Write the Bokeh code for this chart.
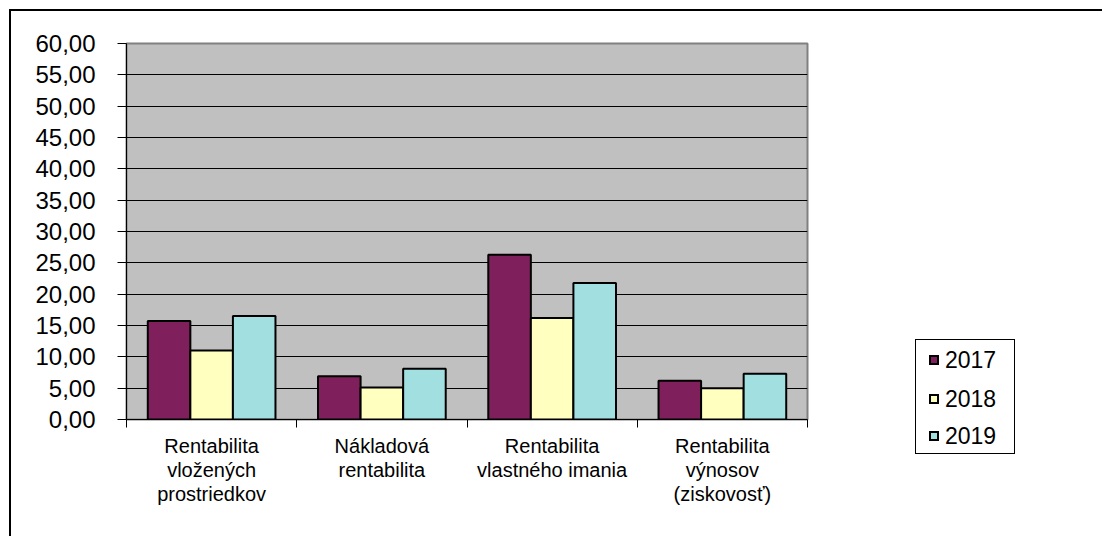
import numpy as np
from bokeh.plotting import figure
from bokeh.layouts import row
from bokeh.models import (Range1d, FixedTicker, CustomJSTickFormatter, ColumnDataSource, Div)
from bokeh.embed import file_html
from bokeh.resources import INLINE

categories = ["Rentabilita\nvložených\nprostriedkov",
              "Nákladová\nrentabilita",
              "Rentabilita\nvlastného imania",
              "Rentabilita\nvýnosov\n(ziskovosť)"]
years = ["2017", "2018", "2019"]
v2017 = [15.7, 6.9, 26.3, 6.2]
v2018 = [11.0, 5.1, 16.2, 5.0]
v2019 = [16.5, 8.1, 21.8, 7.3]
series = [v2017, v2018, v2019]
colors = ["#7F1F5C", "#FFFFC0", "#A2DFE0"]
y_ticks = [0, 5, 10, 15, 20, 25, 30, 35, 40, 45, 50, 55, 60]

FONT = "Liberation Sans"

p = figure(width=809, height=536, output_backend="svg", toolbar_location=None,
           x_range=Range1d(0, len(categories)), y_range=Range1d(0, 60),
           min_border_left=126, min_border_right=2, min_border_top=43, min_border_bottom=117)
p.background_fill_color = "#C0C0C0"
p.border_fill_alpha = 0
p.outline_line_color = "#808080"
p.outline_line_width = 2
p.styles = {
    "background-color": "white",
    "background-image": "linear-gradient(black, black), linear-gradient(black, black)",
    "background-size": "100% 2px, 2px 100%",
    "background-position": "9px 9px, 9px 9px",
    "background-repeat": "no-repeat",
}

idx = np.arange(len(categories))
bar_w = 0.25
for k, (vals, col) in enumerate(zip(series, colors)):
    src = ColumnDataSource(dict(x=idx + 0.5 + (k - 1) * bar_w, top=vals))
    p.vbar(x="x", top="top", width=bar_w, source=src, fill_color=col,
           line_color="black", line_width=2, legend_label=years[k])
p.legend.visible = False

# y axis
p.yaxis.ticker = FixedTicker(ticks=y_ticks)
p.yaxis.formatter = CustomJSTickFormatter(code="return tick.toFixed(2).replace('.', ',');")
p.yaxis.major_label_text_font = FONT
p.yaxis.major_label_text_font_size = "24px"
p.yaxis.major_label_text_color = "black"
p.yaxis.major_tick_out = 9
p.yaxis.major_tick_in = 0
p.yaxis.minor_tick_out = 0
p.yaxis.minor_tick_in = 0
p.yaxis.major_label_standoff = 22
p.yaxis.axis_line_color = "black"
p.yaxis.major_tick_line_color = "black"

# x axis: labels at centers, tick marks at boundaries
centers = list(idx + 0.5)
bounds = list(np.arange(len(categories) + 1).astype(float))
p.xaxis.ticker = FixedTicker(ticks=centers, minor_ticks=bounds)
p.xaxis.major_label_overrides = {float(c): lab for c, lab in zip(centers, categories)}
p.xaxis.major_label_text_font = FONT
p.xaxis.major_label_text_font_size = "20px"
p.xaxis.major_label_text_line_height = 1.1
p.xaxis.major_label_text_color = "black"
p.xaxis.major_tick_out = 0
p.xaxis.major_tick_in = 0
p.xaxis.minor_tick_out = 8
p.xaxis.minor_tick_in = 0
p.xaxis.minor_tick_line_color = "black"
p.xaxis.major_label_standoff = 7
p.xaxis.axis_line_color = "black"

p.xgrid.visible = False
p.ygrid.ticker = FixedTicker(ticks=y_ticks[1:-1])
p.ygrid.grid_line_color = "black"
p.ygrid.grid_line_width = 1

# legend box (HTML) to the right of the chart
item_tops = [7, 46, 83]
items_html = "".join(
    f'<div style="position:absolute;left:13px;top:{t}px;height:26px;display:flex;align-items:center;">'
    f'<span style="display:inline-block;width:10px;height:10px;border:2px solid black;'
    f'background:{c};margin-right:6px;"></span>'
    f'<span style="font-family:\'{FONT}\';font-size:23px;color:black;line-height:26px;">{y}</span></div>'
    for y, c, t in zip(years, colors, item_tops)
)
legend_html = (
    '<div style="position:relative;width:293px;height:536px;background:white;">'
    '<div style="position:absolute;left:0;top:9px;width:293px;height:2px;background:black;"></div>'
    '<div style="position:absolute;left:106px;top:339px;width:100px;height:115px;'
    'border:1px solid black;background:white;">'
    + items_html +
    '</div></div>'
)
legend_div = Div(text=legend_html, width=293, height=536,
                 styles={"margin": "0", "padding": "0"})

layout = row(p, legend_div)
open("out.html", "w").write(file_html(layout, INLINE))
